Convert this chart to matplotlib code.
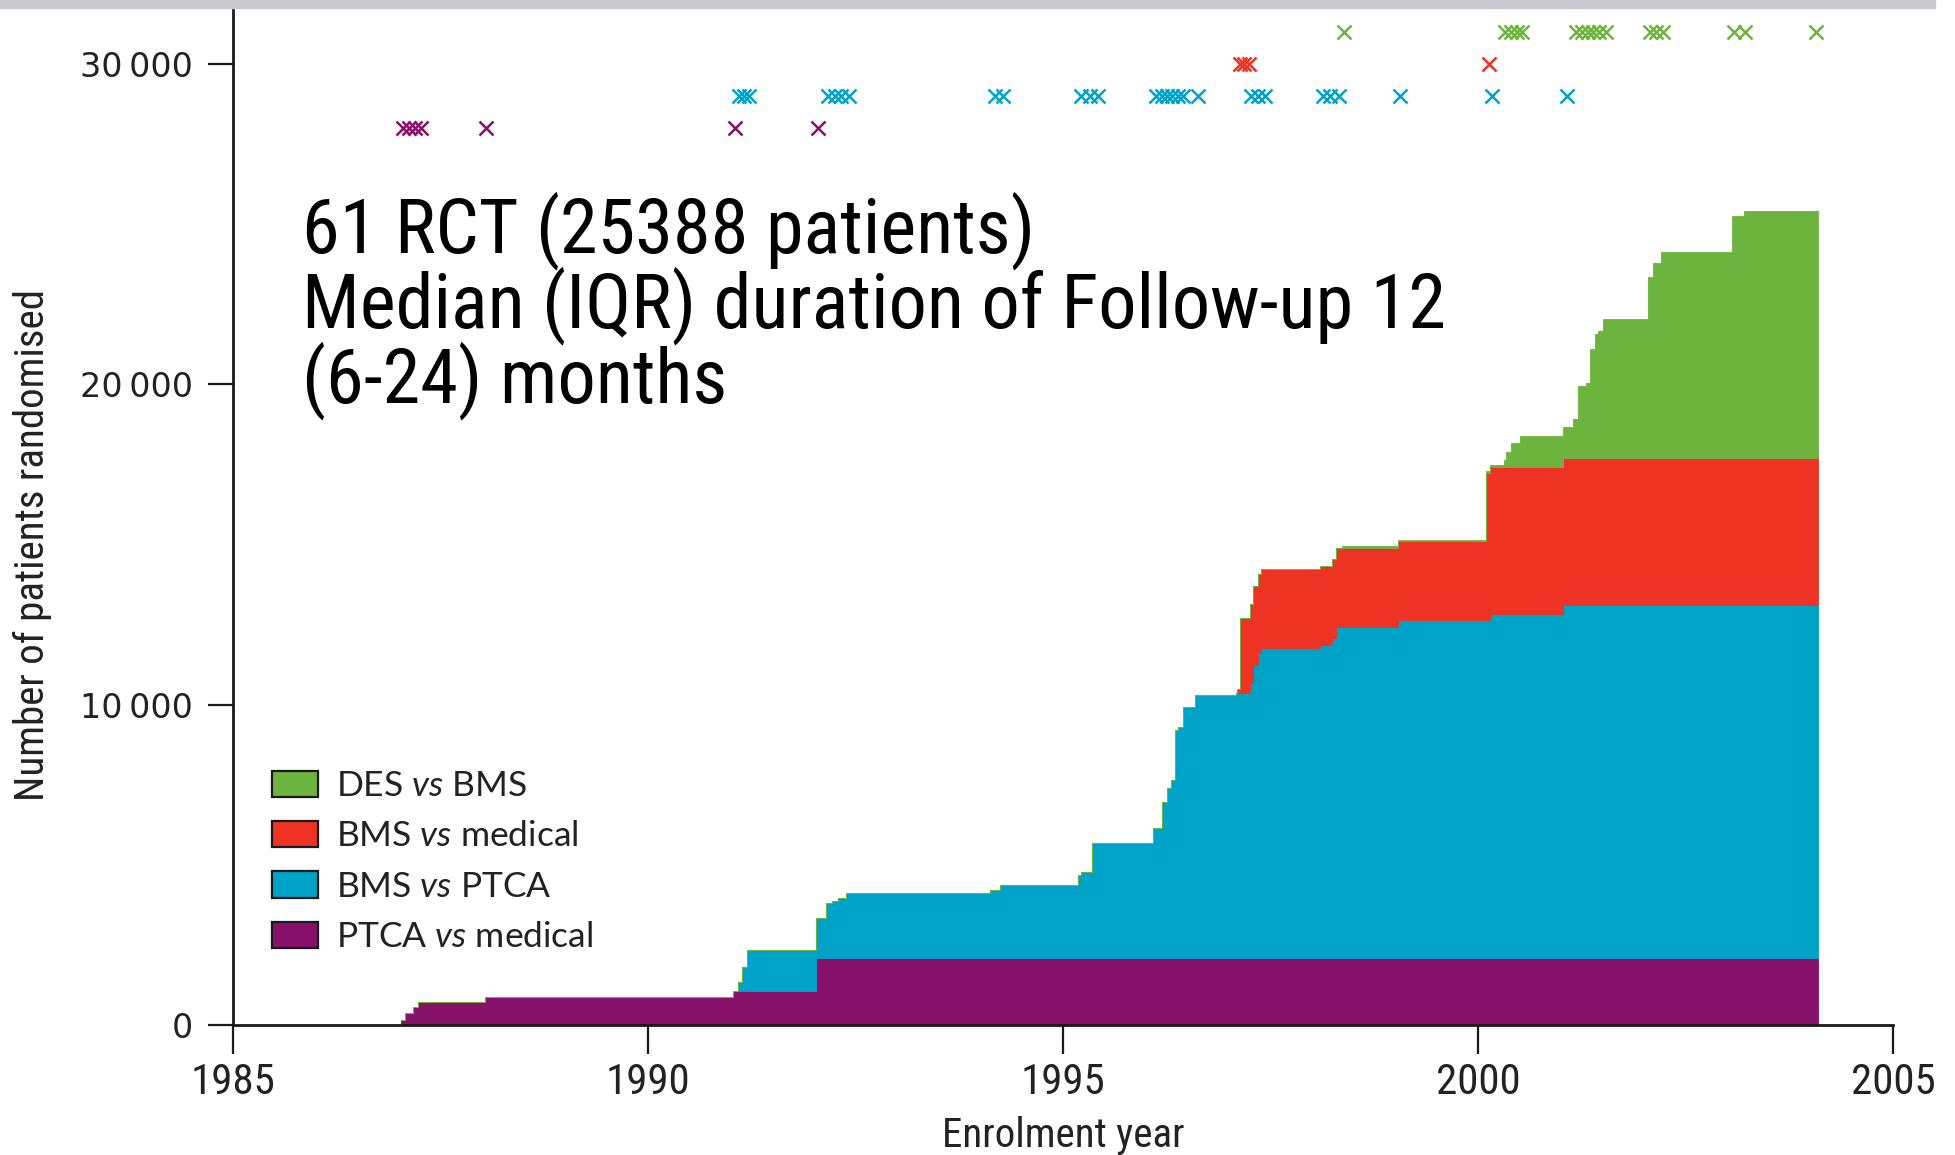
import numpy as np
import matplotlib
matplotlib.use("Agg")
import matplotlib.pyplot as plt
from matplotlib import font_manager
from matplotlib.patches import Patch, Rectangle

# ---------------- data ----------------
# cumulative number of randomised patients for each comparison (step after each year value)
ptca_med_years = [1987.03, 1987.07, 1987.17, 1987.23, 1988.04, 1991.03, 1992.03]
ptca_med_cum = [156, 385, 572, 708, 864, 1061, 2081]

bms_ptca_years = [1991.09, 1991.13, 1991.19, 1992.15, 1992.22, 1992.29, 1992.39, 1994.12,
                  1994.24, 1995.18, 1995.22, 1995.35, 1996.09, 1996.19, 1996.25, 1996.30,
                  1996.35, 1996.39, 1996.45, 1996.59, 1997.09, 1997.25, 1997.29, 1997.35,
                  1997.39, 1998.10, 1998.24, 1998.29, 1999.04, 2000.14, 2001.03]
bms_ptca_cum = [291, 760, 1265, 1718, 1792, 1874, 2030, 2134,
                2290, 2602, 2706, 3591, 4060, 4890, 5308, 5568,
                7129, 7232, 7856, 8222, 8274, 8586, 9158, 9522,
                9678, 9782, 9991, 10354, 10563, 10750, 11031]

bms_med_years = [1997.10, 1997.13, 1997.25, 2000.10]
bms_med_cum = [120, 2342, 2470, 4600]

des_bms_years = [1998.36, 2000.31, 2000.34, 2000.40, 2000.51, 2001.15, 2001.20, 2001.30,
                 2001.35, 2001.41, 2001.45, 2001.50, 2002.05, 2002.11, 2002.20, 2003.06, 2003.20]
des_bms_cum = [40, 210, 470, 730, 970, 1200, 2240, 2320,
               3380, 3850, 3960, 4320, 5640, 6090, 6420, 7530, 7713]

end_year = 2004.10

# trial markers (enrolment year of each trial) and the row they are drawn on
ptca_med_marks = [1987.05, 1987.12, 1987.19, 1987.26, 1988.05, 1991.05, 1992.05]
bms_ptca_marks = [1991.10, 1991.16, 1991.22, 1992.17, 1992.25, 1992.33, 1992.42,
                  1994.18, 1994.28, 1995.22, 1995.32, 1995.42,
                  1996.12, 1996.19, 1996.25, 1996.31, 1996.38, 1996.45, 1996.63,
                  1997.27, 1997.35, 1997.43, 1998.13, 1998.22, 1998.32,
                  1999.06, 2000.17, 2001.07]
bms_med_marks = [1997.13, 1997.18, 1997.24, 2000.13]
des_bms_marks = [1998.39, 2000.33, 2000.40, 2000.47, 2000.53,
                 2001.18, 2001.25, 2001.32, 2001.39, 2001.46, 2001.54,
                 2002.07, 2002.14, 2002.23, 2003.08, 2003.22, 2004.07]
mark_rows = [28000, 29000, 30000, 31000]

colors = ["#87106b", "#00a3c8", "#ee3224", "#6db43f"]
legend_labels = [r"DES $\mathit{vs}$ BMS", r"BMS $\mathit{vs}$ medical",
                 r"BMS $\mathit{vs}$ PTCA", r"PTCA $\mathit{vs}$ medical"]

x_ticks = [1985, 1990, 1995, 2000, 2005]
y_ticks = [0, 10000, 20000, 30000]
y_tick_labels = ["0", "10\u2009000", "20\u2009000", "30\u2009000"]

annotation_lines = ["61 RCT (25388 patients)",
                    "Median (IQR) duration of Follow-up 12",
                    "(6-24) months"]

# ---------------- fonts ----------------
avail = {f.name for f in font_manager.fontManager.ttflist}


def pick(*names):
    for n in names:
        if n in avail:
            return n
    return "DejaVu Sans"


narrow = pick("Liberation Sans Narrow", "Roboto Condensed", "Open Sans Condensed", "DejaVu Sans")
legend_font = pick("Lato", "Open Sans", "Noto Sans", "DejaVu Sans")
tick_font = "DejaVu Sans"

plt.rcParams["font.family"] = [narrow, "DejaVu Sans"]
plt.rcParams["mathtext.fontset"] = "custom"
plt.rcParams["mathtext.it"] = legend_font + ":italic"
plt.rcParams["mathtext.rm"] = legend_font

# ---------------- figure ----------------
W, H = 1956, 1155
fig = plt.figure(figsize=(W / 100, H / 100), dpi=100)
fig.patches.append(Rectangle((0, 1 - 8 / H), 1935 / W, 8 / H, transform=fig.transFigure,
                             color="#c9c9ce", zorder=0))

ax = fig.add_axes([233 / W, (H - 1025) / H, 1660 / W, 1016 / H])

series_years = [ptca_med_years, bms_ptca_years, bms_med_years, des_bms_years]
series_cum = [ptca_med_cum, bms_ptca_cum, bms_med_cum, des_bms_cum]
series_marks = [ptca_med_marks, bms_ptca_marks, bms_med_marks, des_bms_marks]

grid = np.unique(np.concatenate([np.array(y) for y in series_years] + [[end_year]]))


def step_values(years, cum, xs):
    years = np.asarray(years)
    cum = np.asarray(cum, dtype=float)
    idx = np.searchsorted(years, xs, side="right") - 1
    out = np.where(idx >= 0, cum[np.clip(idx, 0, None)], 0.0)
    return out


base = np.zeros_like(grid)
for yrs, cm, col in zip(series_years, series_cum, colors):
    vals = step_values(yrs, cm, grid)
    top = base + vals
    ax.fill_between(grid, base, top, step="post", facecolor=col, edgecolor=col,
                    linewidth=0.6, zorder=2)
    base = top

for marks, row, col in zip(series_marks, mark_rows, colors):
    ax.plot(marks, [row] * len(marks), linestyle="none", marker="x", markersize=10,
            markeredgewidth=1.8, color=col, zorder=3)

ax.set_xlim(1985, 2005)
ax.set_ylim(0, 31720)
for s in ["top", "right"]:
    ax.spines[s].set_visible(False)
for s in ["left", "bottom"]:
    ax.spines[s].set_linewidth(2.0)
    ax.spines[s].set_color("#1a1a1a")
    ax.spines[s].set_zorder(4)

ax.set_xticks(x_ticks)
ax.set_xticklabels([str(v) for v in x_ticks], fontsize=31, family=narrow, color="#222222")
ax.set_yticks(y_ticks)
ax.set_yticklabels(y_tick_labels, fontsize=24, family=tick_font, color="#222222")
ax.tick_params(axis="x", length=21, width=1.6, pad=6, color="#1a1a1a")
ax.tick_params(axis="y", length=18, width=1.6, pad=11, color="#1a1a1a")

ax.set_xlabel("Enrolment year", fontsize=29.5, family=narrow, color="#222222", labelpad=9)
ax.set_ylabel("Number of patients randomised", fontsize=29.5, family=narrow, color="#222222")
ax.yaxis.set_label_coords(-0.109, 0.472)

handles = [Patch(facecolor=c, edgecolor="#1a1a1a", linewidth=1.6) for c in colors[::-1]]
leg = ax.legend(handles, legend_labels, loc="upper left", bbox_to_anchor=(0.0235, 0.251),
                frameon=False, borderpad=0, borderaxespad=0, handlelength=1.3,
                handleheight=0.76, handletextpad=0.5, labelspacing=0.52,
                prop={"family": legend_font, "size": 25.5})
for t in leg.get_texts():
    t.set_color("#222222")

# annotation text
baselines = [253, 328, 403]
texts = [fig.text(302 / W, 1 - b / H, line, fontsize=48, family=narrow, va="baseline",
                  ha="left", color="black") for line, b in zip(annotation_lines, baselines)]
fig.canvas.draw()
r = fig.canvas.get_renderer()
w = texts[1].get_window_extent(r).width
scale = 1145 / w
for t in texts:
    t.set_fontsize(48 * scale)

fig.savefig("out.png", dpi=100)
